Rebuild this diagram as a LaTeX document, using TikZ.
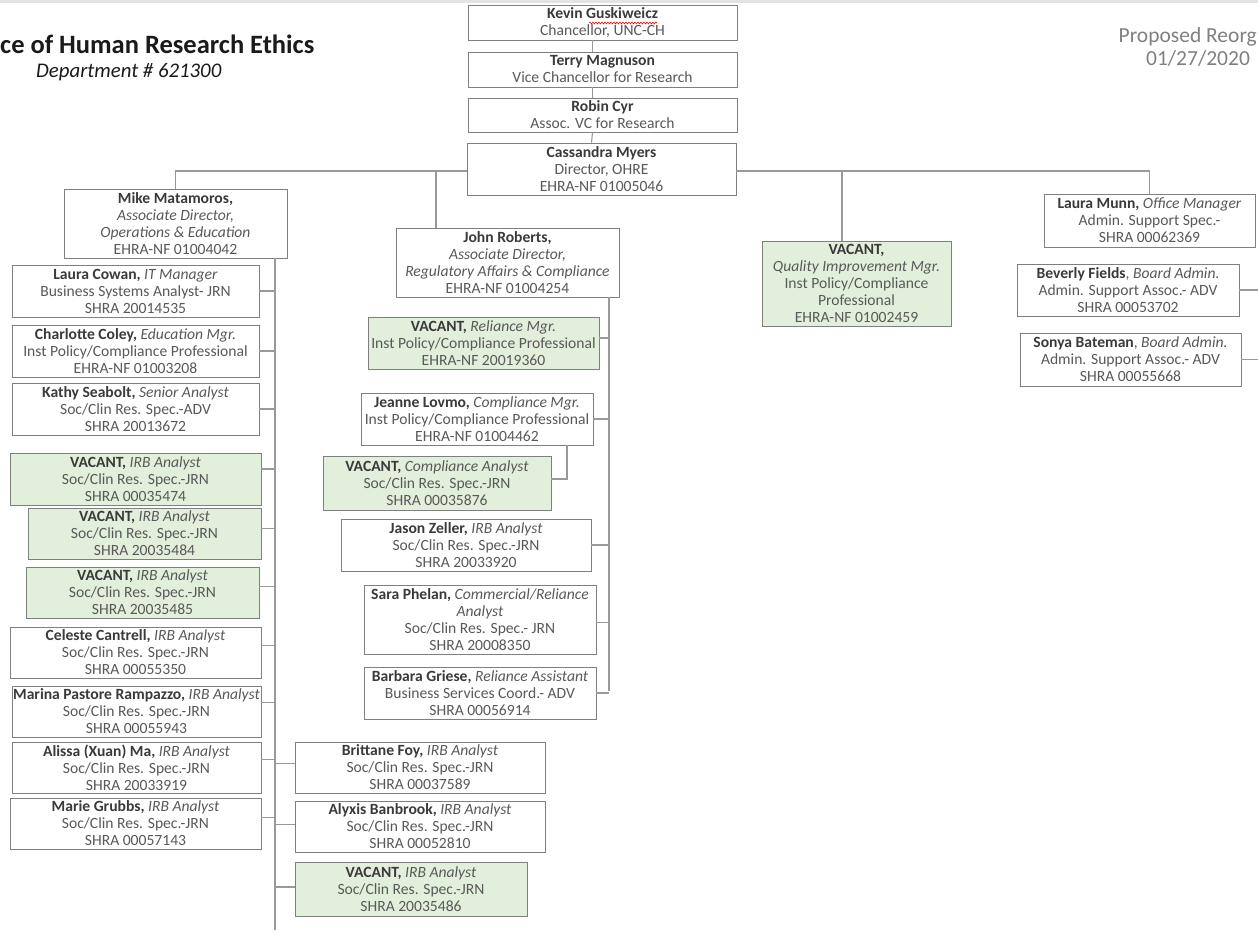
\documentclass[tikz,border=0pt]{standalone}
\usepackage{fontspec}
\setmainfont{Carlito}
\usetikzlibrary{decorations.pathmorphing}
\definecolor{bord}{HTML}{7F7F7F}
\definecolor{lnc}{HTML}{999999}
\definecolor{txt}{HTML}{595959}
\definecolor{nmc}{HTML}{3A3A3A}
\definecolor{vac}{HTML}{E2EFDA}
\definecolor{topbar}{HTML}{E3E3E3}
\definecolor{titc}{HTML}{1A1A1A}
\definecolor{propc}{HTML}{808080}
\newcommand\nm[1]{\textbf{\textcolor{nmc}{#1}}}
\newcommand\ro[1]{\textit{#1}}
\begin{document}
\begin{tikzpicture}[x=1pt,y=-1pt,
  ob/.style={draw=bord, line width=0.9pt, fill=white, inner sep=0pt, align=center, text=txt, font=\fontsize{15.6}{17}\selectfont},
  vb/.style={ob, fill=vac},
  conn/.style={draw=lnc, line width=1.1pt},
]
\useasboundingbox (0,0) rectangle (1258,933);
\fill[topbar] (0,0) rectangle (1258,3);

% titles
\node[anchor=west, inner sep=0pt, text=titc, font=\fontsize{26.5}{26.5}\selectfont\bfseries] (title) at (0,44) {ce of Human Research Ethics};
\node[anchor=west, inner sep=0pt, text=titc, font=\fontsize{20.8}{20.8}\selectfont\itshape] (dept) at (36,72) {Department \# 621300};
\node[anchor=east, inner sep=0pt, text=propc, font=\fontsize{21.5}{21.5}\selectfont] (prop) at (1257,37) {Proposed Reorg};
\node[inner sep=0pt, text=propc, font=\fontsize{21.5}{21.5}\selectfont] (date) at (1198,58) {01/27/2020};

% top chain
\node[ob, minimum width=269, minimum height=35] (kevin) at (602.5,22.5) {\nm{Kevin Guskiweicz}\\Chancellor, UNC-CH};
\node[ob, minimum width=269, minimum height=35] (terry) at (602.5,69.5) {\nm{Terry Magnuson}\\Vice Chancellor for Research};
\node[ob, minimum width=269, minimum height=34] (robin) at (602.5,115) {\nm{Robin Cyr}\\Assoc. VC for Research};
\node[ob, minimum width=269, minimum height=52] (cass) at (601.5,169) {\nm{Cassandra Myers}\\Director, OHRE\\EHRA-NF 01005046};
\draw[red, line width=0.6pt, decorate, decoration={snake, amplitude=0.9pt, segment length=3pt}] (589,23) -- (657,23);

% second level
\node[ob, minimum width=223, minimum height=69] (mike) at (175.5,223.5) {\nm{Mike Matamoros,}\\\ro{Associate Director,}\\\ro{Operations \& Education}\\EHRA-NF 01004042};
\node[ob, minimum width=223, minimum height=69] (john) at (507.5,262.5) {\nm{John Roberts,}\\\ro{Associate Director,}\\\ro{Regulatory Affairs \& Compliance}\\EHRA-NF 01004254};
\node[vb, minimum width=189, minimum height=85] (qi) at (856.5,283.5) {\nm{VACANT,}\\\ro{Quality Improvement Mgr.}\\Inst Policy/Compliance\\Professional\\EHRA-NF 01002459};
\node[ob, minimum width=211, minimum height=53] (munn) at (1149.5,220.5) {\nm{Laura Munn,} \ro{Office Manager}\\Admin. Support Spec.-\\SHRA 00062369};
\node[ob, minimum width=222, minimum height=52] (bev) at (1128,290) {\nm{Beverly Fields}, \ro{Board Admin.}\\Admin. Support Assoc.- ADV\\SHRA 00053702};
\node[ob, minimum width=221, minimum height=53] (sonya) at (1130.5,359.5) {\nm{Sonya Bateman}, \ro{Board Admin.}\\Admin. Support Assoc.- ADV\\SHRA 00055668};

% Mike's team
\node[ob, minimum width=247, minimum height=52] (lcowan) at (135.5,291) {\nm{Laura Cowan,} \ro{IT Manager}\\Business Systems Analyst- JRN\\SHRA 20014535};
\node[ob, minimum width=247, minimum height=52] (ccoley) at (135.5,351) {\nm{Charlotte Coley,} \ro{Education Mgr.}\\Inst Policy/Compliance Professional\\EHRA-NF 01003208};
\node[ob, minimum width=247, minimum height=52] (kseab) at (135.5,409) {\nm{Kathy Seabolt,} \ro{Senior Analyst}\\Soc/Clin Res. Spec.-ADV\\SHRA 20013672};
\node[vb, minimum width=251, minimum height=52] (v1) at (135.5,479) {\nm{VACANT,} \ro{IRB Analyst}\\Soc/Clin Res. Spec.-JRN\\SHRA 00035474};
\node[vb, minimum width=233, minimum height=51] (v2) at (144.5,533.5) {\nm{VACANT,} \ro{IRB Analyst}\\Soc/Clin Res. Spec.-JRN\\SHRA 20035484};
\node[vb, minimum width=233, minimum height=51] (v3) at (142.5,592.5) {\nm{VACANT,} \ro{IRB Analyst}\\Soc/Clin Res. Spec.-JRN\\SHRA 20035485};
\node[ob, minimum width=251, minimum height=51] (celeste) at (135.5,652.5) {\nm{Celeste Cantrell,} \ro{IRB Analyst}\\Soc/Clin Res. Spec.-JRN\\SHRA 00055350};
\node[ob, minimum width=249, minimum height=51] (marina) at (136.5,711.5) {\nm{Marina Pastore Rampazzo,} \ro{IRB Analyst}\\Soc/Clin Res. Spec.-JRN\\SHRA 00055943};
\node[ob, minimum width=249, minimum height=51] (alissa) at (136.5,767.5) {\nm{Alissa (Xuan) Ma,} \ro{IRB Analyst}\\Soc/Clin Res. Spec.-JRN\\SHRA 20033919};
\node[ob, minimum width=251, minimum height=51] (marie) at (135.5,823.5) {\nm{Marie Grubbs,} \ro{IRB Analyst}\\Soc/Clin Res. Spec.-JRN\\SHRA 00057143};
\node[ob, minimum width=250, minimum height=51] (brit) at (420,767.5) {\nm{Brittane Foy,} \ro{IRB Analyst}\\Soc/Clin Res. Spec.-JRN\\SHRA 00037589};
\node[ob, minimum width=250, minimum height=51] (alyx) at (420,826.5) {\nm{Alyxis Banbrook,} \ro{IRB Analyst}\\Soc/Clin Res. Spec.-JRN\\SHRA 00052810};
\node[vb, minimum width=232, minimum height=54] (v4) at (411,889) {\nm{VACANT,} \ro{IRB Analyst}\\Soc/Clin Res. Spec.-JRN\\SHRA 20035486};

% John's team
\node[vb, minimum width=231, minimum height=52] (vrel) at (483.5,343) {\nm{VACANT,} \ro{Reliance Mgr.}\\Inst Policy/Compliance Professional\\EHRA-NF 20019360};
\node[ob, minimum width=232, minimum height=52] (jeanne) at (477,419) {\nm{Jeanne Lovmo,} \ro{Compliance Mgr.}\\Inst Policy/Compliance Professional\\EHRA-NF 01004462};
\node[vb, minimum width=228, minimum height=54] (vcomp) at (437,483) {\nm{VACANT,} \ro{Compliance Analyst}\\Soc/Clin Res. Spec.-JRN\\SHRA 00035876};
\node[ob, minimum width=250, minimum height=52] (jason) at (466,545) {\nm{Jason Zeller,} \ro{IRB Analyst}\\Soc/Clin Res. Spec.-JRN\\SHRA 20033920};
\node[ob, minimum width=232, minimum height=69] (sara) at (480,619.5) {\nm{Sara Phelan,} \ro{Commercial/Reliance}\\\ro{Analyst}\\Soc/Clin Res. Spec.- JRN\\SHRA 20008350};
\node[ob, minimum width=232, minimum height=52] (barb) at (480,693) {\nm{Barbara Griese,} \ro{Reliance Assistant}\\Business Services Coord.- ADV\\SHRA 00056914};

% coordinates for connector ends
\coordinate (jtop) at (436,171);
\coordinate (qtop) at (842,171);
\coordinate (mx) at (275,930);
\coordinate (jx) at (609,691);
\coordinate (jc) at (567,479);
\coordinate (redge) at (1258,0);

% top chain connectors
\draw[conn] ([xshift=-10pt]kevin.south) -- ([xshift=-10pt]terry.north);
\draw[conn] ([xshift=-10pt]terry.south) -- ([xshift=-10pt]robin.north);
\draw[conn] ([xshift=-10pt]robin.south) -- ([xshift=-10pt]cass.north);

% bus
\draw[conn] (mike.north) |- ([yshift=-2pt]cass.west);
\draw[conn] ([yshift=-2pt]cass.east) -| (munn.north);
\draw[conn] (jtop) -- (jtop |- john.north);
\draw[conn] (qtop) -- (qtop |- qi.north);

% Mike drop
\draw[conn] (mike.south -| mx) -- (mx);
\draw[conn] (lcowan.east) -- (lcowan.east -| mx);
\draw[conn] (ccoley.east) -- (ccoley.east -| mx);
\draw[conn] (kseab.east) -- (kseab.east -| mx);
\draw[conn] ([yshift=10pt]v1.east) -- ([yshift=10pt]v1.east -| mx);
\draw[conn] ([yshift=5pt]v2.east) -- ([yshift=5pt]v2.east -| mx);
\draw[conn] ([yshift=6pt]v3.east) -- ([yshift=6pt]v3.east -| mx);
\draw[conn] ([yshift=7pt]celeste.east) -- ([yshift=7pt]celeste.east -| mx);
\draw[conn] ([yshift=9pt]marina.east) -- ([yshift=9pt]marina.east -| mx);
\draw[conn] ([yshift=8pt]alissa.east) -- ([yshift=8pt]alissa.east -| mx);
\draw[conn] ([yshift=6pt]marie.east) -- ([yshift=6pt]marie.east -| mx);
\draw[conn] ([yshift=4pt]brit.west) -- ([yshift=4pt]brit.west -| mx);
\draw[conn] ([yshift=2pt]alyx.west) -- ([yshift=2pt]alyx.west -| mx);
\draw[conn] ([yshift=2pt]v4.west) -- ([yshift=2pt]v4.west -| mx);

% John drop
\draw[conn] (john.south -| jx) -- (jx);
\draw[conn] ([yshift=5pt]vrel.east) -- ([yshift=5pt]vrel.east -| jx);
\draw[conn] (jeanne.east) -- (jeanne.east -| jx);
\draw[conn] (jason.east) -- (jason.east -| jx);
\draw[conn] ([yshift=-3pt]sara.east) -- ([yshift=-3pt]sara.east -| jx);
\draw[conn] (barb.east) -- (barb.east -| jx);
\draw[conn] (jeanne.south -| jc) -- (jc) -- (jc -| vcomp.east);

% right side
\draw[conn] (bev.east) -- (bev.east -| redge);
\draw[conn] (sonya.east) -- (sonya.east -| redge);
\end{tikzpicture}
\end{document}
